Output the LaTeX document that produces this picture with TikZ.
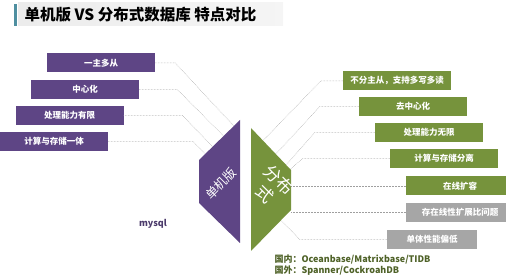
\documentclass[tikz,border=0pt]{standalone}
\usepackage{fontspec}
\setmainfont{Noto Sans CJK SC}
\usetikzlibrary{calc}
\definecolor{zi}{HTML}{5E4585}
\definecolor{lv}{HTML}{76933C}
\definecolor{hui}{HTML}{A6A6A6}
\definecolor{shenlv}{HTML}{4F6228}
\definecolor{shenzi}{HTML}{4B3A6B}
\definecolor{lan}{HTML}{4F8FA0}

\begin{document}
\begin{tikzpicture}[x=1pt,y=-1pt,
  box/.style={minimum width=108pt,minimum height=19pt,inner sep=0pt,text=white,font=\bfseries\fontsize{8.5}{9}\selectfont},
  link/.style={gray!75,densely dotted,line width=.5pt}]
\useasboundingbox (0,0) rectangle (506,280);
% title
\shade[left color=gray!15,right color=gray!8](18,3)rectangle(283,26);\fill[lan](14,4)rectangle(17,26);
\node[anchor=west,font=\bfseries\fontsize{15.5}{15.5}\selectfont](title)at(21,15){单机版 VS 分布式数据库 特点对比};
% two halves
\coordinate(pt)at(240,120);\coordinate(pl1)at(199,160);\coordinate(pl2)at(199,203);\coordinate(pb)at(240,243);
\coordinate(gt)at(251,128);\coordinate(gr1)at(291,170);\coordinate(gr2)at(291,210);\coordinate(gb)at(251,251);
\fill[zi](pt)--(pl1)--(pl2)--(pb)--cycle;\fill[lv](gt)--(gr1)--(gr2)--(gb)--cycle;
\node[rotate=45,inner sep=0pt,text=white,font=\fontsize{12.5}{12.5}\selectfont](dan)at(221,184){单机版};
\node[rotate=-45,inner sep=0pt,text=white,align=center,font=\fontsize{17}{20}\selectfont](fen)at(272,187){分布\\式};
% left side
\node[box,fill=zi](l1)at(101,63){一主多从};
\node[box,fill=zi](l2)at(85,89.5){中心化};
\node[box,fill=zi](l3)at(69.5,115.5){处理能力有限};
\node[box,fill=zi](l4)at(54,141.5){计算与存储一体};
\draw[link](l1.east)--++(20,0)--($(pt)!.15!(pl1)$);
\draw[link](l2.east)--++(38,0)--($(pt)!.4!(pl1)$);
\draw[link](l3.east)--++(59,0)--($(pt)!.67!(pl1)$);
\draw[link](l4.east)--++(85,0)--($(pt)!.85!(pl1)$);
\node[text=shenzi,font=\bfseries\fontsize{9}{9}\selectfont](mysql)at(153,224){mysql};
% right side
\node[box,fill=lv](r1)at(397,81){不分主从，支持多写多读};
\node[box,fill=lv](r2)at(413,106.5){去中心化};
\node[box,fill=lv](r3)at(429,132.5){处理能力无限};
\node[box,fill=lv](r4)at(444,158.5){计算与存储分离};
\node[box,fill=lv](r5)at(460,186){在线扩容};
\node[box,fill=hui](r6)at(460,212.5){存在线性扩展比问题};
\node[box,fill=hui,minimum width=90pt](r7)at(432,239.5){单体性能偏低};
\draw[link](r1.west)--++(-22,0)--($(gt)!.3!(gr1)$);
\draw[link](r2.west)--++(-39,0)--($(gt)!.62!(gr1)$);
\draw[link](r3.west)--++(-60,0)--($(gt)!.88!(gr1)$);
\draw[link](r4.west)--++(-87,0)--($(gt)!.98!(gr1)$);
\draw[link](r5.west)--(r5.west-|gr1);
\draw[link](r6.west)--(r6.west-|gr1);
\draw[link](r7.west)--++(-87,0)--($(gr2)!.25!(gb)$);
\node[anchor=west,text=shenlv,font=\bfseries\fontsize{9}{10.5}\selectfont,align=left](db)at(271,265){国内：Oceanbase/Matrixbase/TIDB\\国外：Spanner/CockroahDB};
\end{tikzpicture}
\end{document}
